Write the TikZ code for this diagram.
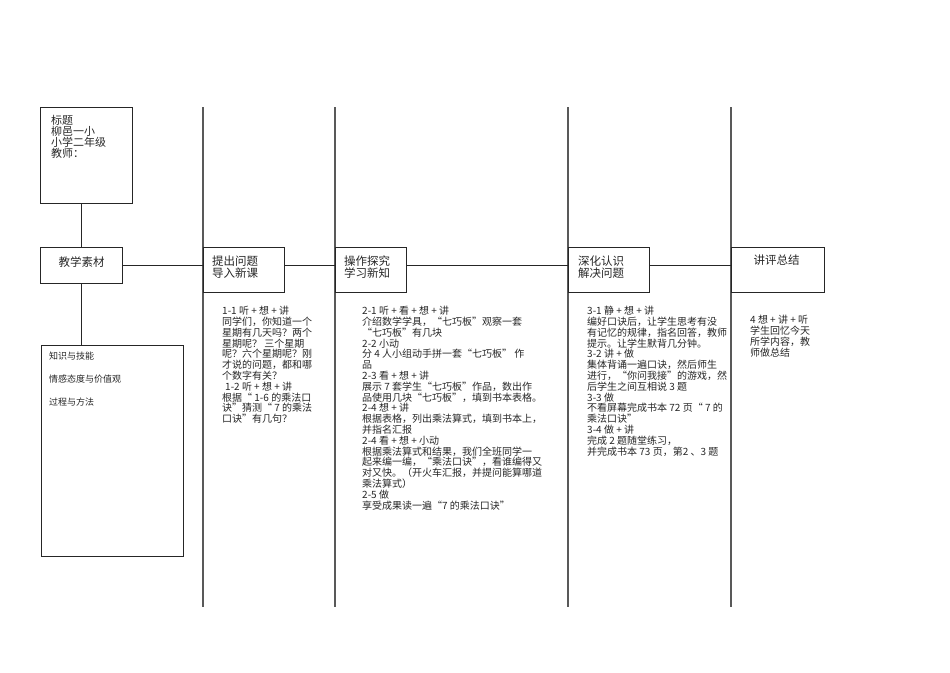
\documentclass[tikz,border=0pt]{standalone}
\usepackage{fontspec}
\setmainfont{Noto Sans CJK SC}
\begin{document}
\begin{tikzpicture}[x=1pt,y=-1pt,
  box/.style={draw=black!85, line width=0.8pt, inner sep=0pt, anchor=north west},
  ln/.style={draw=black!85, line width=0.8pt},
  vl/.style={draw=black!65, line width=1.1pt},
  body/.style={anchor=north west, inner sep=0pt, align=left, text=black!85, font=\fontsize{10}{10.8}\selectfont},
  head/.style={anchor=north west, inner sep=0pt, align=left, text=black!85, font=\fontsize{11.5}{12}\selectfont}]
\useasboundingbox (0,0) rectangle (950,672);

% vertical column lines
\coordinate (v1t) at (203,107); \coordinate (v1b) at (203,607);
\coordinate (v2t) at (335,107); \coordinate (v2b) at (335,607);
\coordinate (v3t) at (568,107); \coordinate (v3b) at (568,607);
\coordinate (v4t) at (731,107); \coordinate (v4b) at (731,607);
\draw[vl] (v1t) -- (v1b);
\draw[vl] (v2t) -- (v2b);
\draw[vl] (v3t) -- (v3b);
\draw[vl] (v4t) -- (v4b);

% boxes
\node[box, minimum width=92pt, minimum height=96pt] (title) at (40,107) {};
\node[box, minimum width=82pt, minimum height=36pt] (sucai) at (40,247) {};
\node[box, minimum width=142pt, minimum height=211pt] (zhishi) at (41,345) {};
\node[box, minimum width=81pt, minimum height=45pt] (tichu) at (203,247) {};
\node[box, minimum width=71pt, minimum height=45pt] (caozuo) at (335,247) {};
\node[box, minimum width=81pt, minimum height=45pt] (shenhua) at (568,247) {};
\node[box, minimum width=93pt, minimum height=45pt] (jiangping) at (731,247) {};

% connectors
\draw[ln] (sucai.north) -- (sucai.north |- title.south);
\draw[ln] (sucai.south) -- (sucai.south |- zhishi.north);
\draw[ln] (sucai.east) -- (sucai.east -| tichu.west);
\draw[ln] (tichu.east |- sucai.east) -- (caozuo.west |- sucai.east);
\draw[ln] (caozuo.east |- sucai.east) -- (shenhua.west |- sucai.east);
\draw[ln] (shenhua.east |- sucai.east) -- (jiangping.west |- sucai.east);

% box texts
\node[anchor=north west, inner sep=0pt, align=left, text=black!85, font=\fontsize{11}{11}\selectfont] (titletxt) at (51,115.5) {标题\\柳邑一小\\小学二年级\\教师：};
\node[inner sep=0pt, text=black!85, font=\fontsize{11.5}{12}\selectfont] (sucaitxt) at (81.5,262) {教学素材};
\node[head] (tichutxt) at (212,255.3) {提出问题\\导入新课};
\node[head] (caozuotxt) at (344,255.3) {操作探究\\学习新知};
\node[head] (shenhuatxt) at (578,255.3) {深化认识\\解决问题};
\node[inner sep=0pt, text=black!85, font=\fontsize{11.5}{12}\selectfont] (jiangpingtxt) at (776.5,260.5) {讲评总结};
\node[anchor=north west, inner sep=0pt, align=left, text=black!85, font=\fontsize{9}{23}\selectfont] (zhishitxt) at (49,351.5) {知识与技能\\情感态度与价值观\\过程与方法};

% column texts
\node[body] (col1) at (222,306) {1-1 听 + 想 + 讲\\
同学们，你知道一个\\
星期有几天吗？两个\\
星期呢？ 三个星期\\
呢？六个星期呢？刚\\
才说的问题，都和哪\\
个数字有关？\\
\hspace*{3pt}1-2 听 + 想 + 讲\\
根据“ 1-6 的乘法口\\
诀”猜测“ 7 的乘法\\
口诀”有几句？};

\node[body] (col2) at (362,306) {2-1 听 + 看 + 想 + 讲\\
介绍数学学具，“七巧板”观察一套\\
“七巧板”有几块\\
2-2 小动\\
分 4 人小组动手拼一套“七巧板” 作\\
品\\
2-3 看 + 想 + 讲\\
展示 7 套学生“七巧板”作品，数出作\\
品使用几块“七巧板”，填到书本表格。\\
2-4 想 + 讲\\
根据表格，列出乘法算式，填到书本上，\\
并指名汇报\\
2-4 看 + 想 + 小动\\
根据乘法算式和结果，我们全班同学一\\
起来编一编，“乘法口诀”，看谁编得又\\
对又快。（开火车汇报，并提问能算哪道\\
乘法算式）\\
2-5 做\\
享受成果读一遍“7 的乘法口诀”};

\node[body] (col3) at (587,306) {3-1 静 + 想 + 讲\\
编好口诀后，让学生思考有没\\
有记忆的规律，指名回答，教师\\
提示。让学生默背几分钟。\\
3-2 讲 + 做\\
集体背诵一遍口诀，然后师生\\
进行，“你问我接”的游戏，然\\
后学生之间互相说 3 题\\
3-3 做\\
不看屏幕完成书本 72 页“ 7 的\\
乘法口诀”\\
3-4 做 + 讲\\
完成 2 题随堂练习，\\
并完成书本 73 页，第2 、3 题};

\node[body] (col4) at (750,315) {4 想 + 讲 + 听\\
学生回忆今天\\
所学内容，教\\
师做总结};
\end{tikzpicture}
\end{document}
